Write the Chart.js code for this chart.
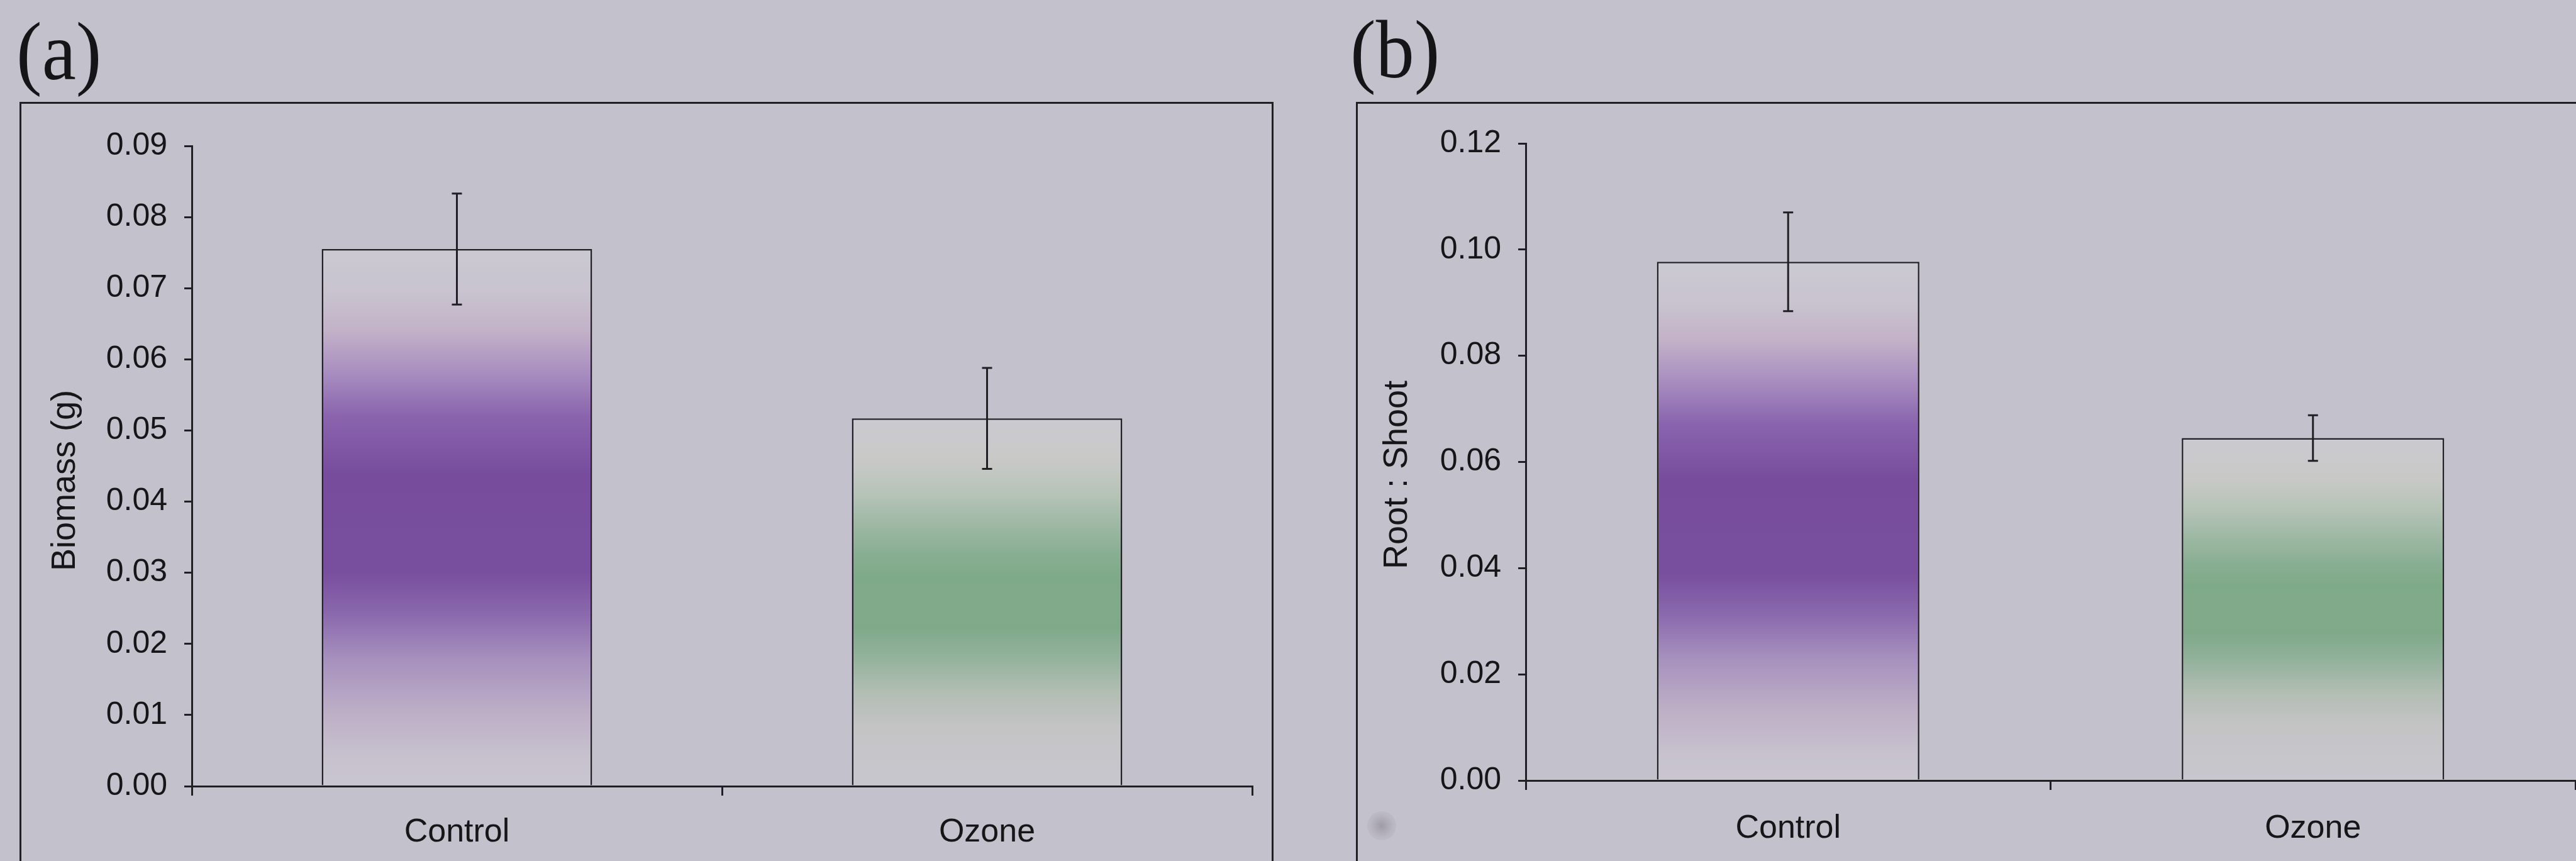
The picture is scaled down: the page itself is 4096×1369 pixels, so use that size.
<!DOCTYPE html>
<html>
<head>
<meta charset="utf-8">
<script src="https://cdn.jsdelivr.net/npm/chart.js@4.4.1/dist/chart.umd.min.js"></script>
<style>
  html, body {
    margin: 0;
    padding: 0;
    width: 4096px;
    height: 1369px;
    overflow: hidden;
    background: #c3c1cb;
  }
  .frame {
    position: absolute;
    box-sizing: border-box;
    border: 3px solid #1f1f24;
    border-bottom: none;
  }
  .panel-label {
    position: absolute;
    font-family: "Liberation Serif", "Times New Roman", serif;
    font-size: 122px;
    line-height: 1;
    color: #151518;
    transform: scale(1, 1.08);
    transform-origin: 0 0;
  }
  #smudge {
    position: absolute;
    left: 2174px;
    top: 1290px;
    width: 46px;
    height: 46px;
    border-radius: 50%;
    background: radial-gradient(circle, rgba(150,147,158,0.8) 0%, rgba(170,167,178,0.4) 55%, rgba(195,193,203,0) 100%);
  }
  canvas {
    position: absolute;
    top: 0;
  }
</style>
</head>
<body>
<div class="frame" style="left:31px;top:162px;width:1994px;height:1300px"></div>
<div class="frame" style="left:2156px;top:162px;width:2000px;height:1300px"></div>
<div class="panel-label" style="left:26px;top:16px">(a)</div>
<div class="panel-label" style="left:2147px;top:13px">(b)</div>
<div id="smudge"></div>
<canvas id="chartA" width="2060" height="1369" style="left:0px"></canvas>
<canvas id="chartB" width="1996" height="1369" style="left:2100px"></canvas>

<script>
// Data
const categories = ["Control", "Ozone"];

const biomass = [0.0755, 0.0517];
const biomassErr = [0.0078, 0.0071];
const biomassTicks = [0, 0.01, 0.02, 0.03, 0.04, 0.05, 0.06, 0.07, 0.08, 0.09];

const rootShoot = [0.0977, 0.0645];
const rootShootErr = [0.0093, 0.0043];
const rootShootTicks = [0, 0.02, 0.04, 0.06, 0.08, 0.1, 0.12];

const INK = "#1f1f24";
const TEXT = "#161619";
const SANS = "'Liberation Sans', Arial, Helvetica, sans-serif";

// vertical colour bands inside each bar (0 = bar top, 1 = baseline)
const purpleStops = [
  [0.0, "#cbc9d1"],
  [0.08, "#c8c3cf"],
  [0.15, "#c3b2c8"],
  [0.23, "#a88ec0"],
  [0.31, "#8a65ae"],
  [0.42, "#774c9d"],
  [0.6, "#784e9e"],
  [0.68, "#8a69ad"],
  [0.76, "#a58fbd"],
  [0.86, "#bdaec6"],
  [0.95, "#c7c2ce"],
  [1.0, "#c9c6d0"],
];
const greenStops = [
  [0.0, "#cbc9d1"],
  [0.12, "#c8c9c6"],
  [0.21, "#b5c3b6"],
  [0.29, "#9db8a3"],
  [0.37, "#88ae92"],
  [0.43, "#7faa89"],
  [0.57, "#80a98a"],
  [0.65, "#93b29c"],
  [0.74, "#b1bdb2"],
  [0.84, "#c4c4c5"],
  [1.0, "#c8c6ce"],
];
const barStops = [purpleStops, greenStops];

// Gradient fill for a bar, built from its own top and baseline
function barFill(context) {
  const chart = context.chart;
  if (context.type !== "data" || !chart.chartArea) {
    return "#c8c6ce";
  }
  const yScale = chart.scales.y;
  const top = yScale.getPixelForValue(context.raw);
  const bottom = yScale.getPixelForValue(0);
  const g = chart.ctx.createLinearGradient(0, top, 0, bottom);
  barStops[context.dataIndex].forEach(([pos, col]) => g.addColorStop(pos, col));
  return g;
}

// Draws the +/- error whiskers over the bars
const errorBarPlugin = {
  id: "errorBars",
  afterDatasetsDraw(chart, args, opts) {
    const ctx = chart.ctx;
    const yScale = chart.scales.y;
    const values = chart.data.datasets[0].data;
    const meta = chart.getDatasetMeta(0);
    ctx.save();
    ctx.strokeStyle = INK;
    ctx.lineWidth = 3;
    meta.data.forEach((bar, i) => {
      const hi = yScale.getPixelForValue(values[i] + opts.errors[i]);
      const lo = yScale.getPixelForValue(values[i] - opts.errors[i]);
      ctx.beginPath();
      ctx.moveTo(bar.x, hi);
      ctx.lineTo(bar.x, lo);
      ctx.moveTo(bar.x - 8, hi);
      ctx.lineTo(bar.x + 8, hi);
      ctx.moveTo(bar.x - 8, lo);
      ctx.lineTo(bar.x + 8, lo);
      ctx.stroke();
    });
    ctx.restore();
  },
};

// Rotated y-axis title, placed where the original one sits
const sideTitlePlugin = {
  id: "sideTitle",
  afterDraw(chart, args, opts) {
    const ctx = chart.ctx;
    ctx.save();
    ctx.translate(opts.x, opts.y);
    ctx.rotate(-Math.PI / 2);
    ctx.font = "54px " + SANS;
    ctx.fillStyle = TEXT;
    ctx.textAlign = "center";
    ctx.textBaseline = "middle";
    ctx.fillText(opts.text, 0, 0);
    ctx.restore();
  },
};

function makeChart(canvasId, values, errors, ticks, title, box) {
  return new Chart(document.getElementById(canvasId), {
    type: "bar",
    data: {
      labels: categories,
      datasets: [
        {
          data: values,
          backgroundColor: barFill,
          borderColor: INK,
          borderWidth: 2.5,
          barPercentage: box.barPct,
          categoryPercentage: 1,
        },
      ],
    },
    options: {
      responsive: false,
      devicePixelRatio: 1,
      animation: false,
      layout: {
        padding: { left: 0, top: box.top, right: box.right, bottom: 0 },
      },
      plugins: {
        legend: { display: false },
        tooltip: { enabled: false },
        errorBars: { errors: errors },
        sideTitle: { text: title, x: box.titleX, y: box.titleY },
      },
      scales: {
        x: {
          afterFit: (scale) => {
            scale.height = box.xHeight;
          },
          border: { display: true, color: INK, width: 3 },
          grid: {
            offset: true,
            drawOnChartArea: false,
            drawTicks: true,
            tickLength: 15,
            color: INK,
            lineWidth: 3,
          },
          ticks: {
            color: TEXT,
            font: { family: SANS, size: 52 },
            padding: box.labelPad,
          },
        },
        y: {
          min: 0,
          max: ticks[ticks.length - 1],
          afterBuildTicks: (scale) => {
            scale.ticks = ticks.map((v) => ({ value: v }));
          },
          afterFit: (scale) => {
            scale.width = box.yWidth;
          },
          border: { display: true, color: INK, width: 3 },
          grid: {
            drawOnChartArea: false,
            drawTicks: true,
            tickLength: 12,
            color: INK,
            lineWidth: 3,
          },
          ticks: {
            color: TEXT,
            font: { family: SANS, size: 50 },
            padding: 27,
            callback: (v) => Number(v).toFixed(2),
          },
        },
      },
    },
    plugins: [errorBarPlugin, sideTitlePlugin],
  });
}

makeChart("chartA", biomass, biomassErr, biomassTicks, "Biomass (g)", {
  top: 232,
  right: 69,
  xHeight: 119,
  yWidth: 305,
  barPct: 0.51,
  labelPad: 27,
  titleX: 104,
  titleY: 764,
});

makeChart("chartB", rootShoot, rootShootErr, rootShootTicks, "Root : Shoot", {
  top: 228,
  right: 1,
  xHeight: 128,
  yWidth: 326,
  barPct: 0.5,
  labelPad: 30,
  titleX: 122,
  titleY: 755,
});
</script>
</body>
</html>
